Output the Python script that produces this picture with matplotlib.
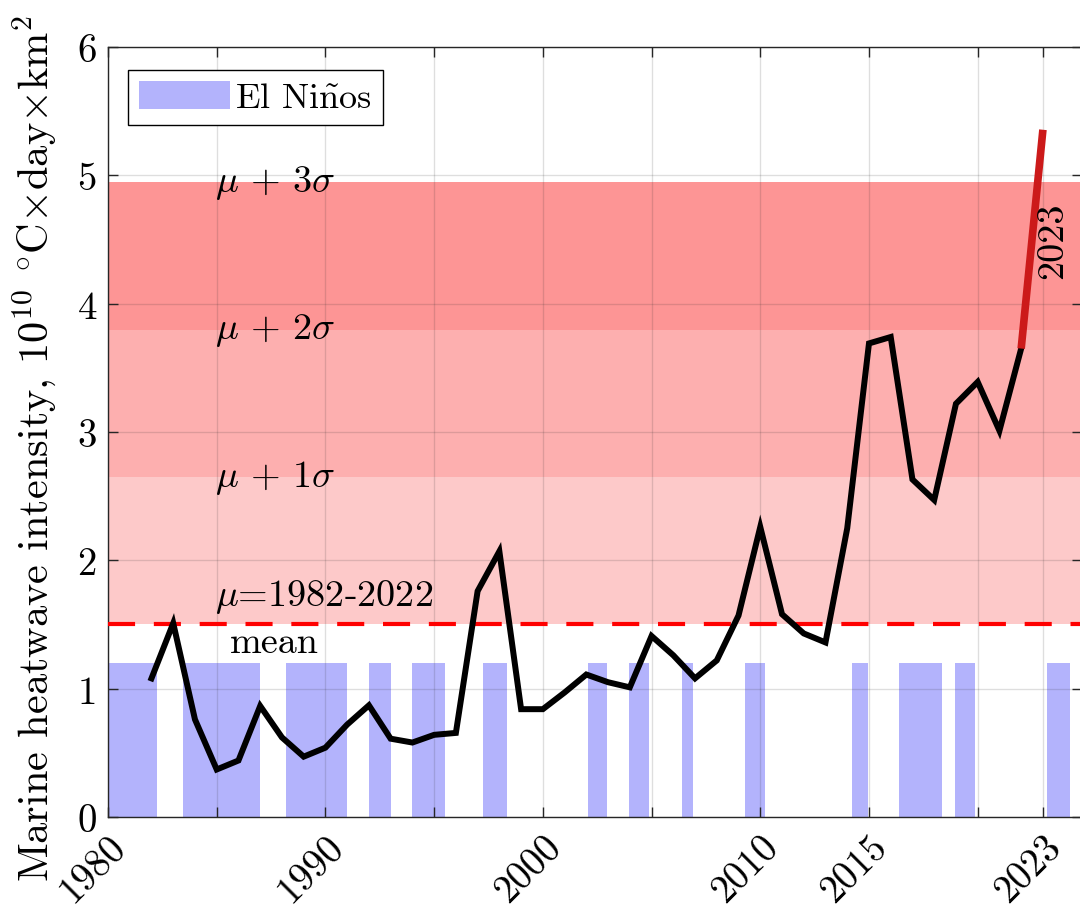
import numpy as np
import matplotlib
matplotlib.use("Agg")
import matplotlib.pyplot as plt
from matplotlib.patches import Patch

plt.rcParams['font.family'] = 'cmr10'
plt.rcParams['mathtext.fontset'] = 'cm'
plt.rcParams['axes.formatter.use_mathtext'] = True

# ---- data ----
years = list(range(1982, 2023))
intensity = [1.08, 1.51, 0.76, 0.37, 0.44, 0.865, 0.62, 0.47, 0.54, 0.72,
             0.87, 0.61, 0.58, 0.64, 0.655, 1.76, 2.07, 0.84, 0.84, 0.97,
             1.11, 1.05, 1.01, 1.41, 1.26, 1.08, 1.22, 1.57, 2.26, 1.58,
             1.43, 1.36, 2.25, 3.69, 3.74, 2.63, 2.47, 3.22, 3.39, 3.01,
             3.65]
year_2023 = [2022, 2023]
intensity_2023 = [3.65, 5.355]

clim_mean = 1.50
clim_std = 1.148

elnino_start = [1980.0, 1983.45, 1988.2, 1992.0, 1994.0, 1997.25, 2002.08,
                2003.97, 2006.4, 2009.3, 2014.2, 2016.4, 2018.96, 2023.2]
elnino_end = [1982.25, 1987.0, 1991.0, 1993.0, 1995.5, 1998.35, 2002.95,
              2004.9, 2006.9, 2010.2, 2014.96, 2018.36, 2019.88, 2024.25]
elnino_height = 1.2

xticks = [1980, 1985, 1990, 1995, 2000, 2005, 2010, 2015, 2020, 2023]
xticklabels = ['1980', '', '1990', '', '2000', '', '2010', '2015', '', '2023']
yticks = [0, 1, 2, 3, 4, 5, 6]

# ---- figure ----
fig = plt.figure(figsize=(10.8, 9.12), dpi=100)
ax = fig.add_axes([0.1, 0.1031, 1.0019 - 0.1, 0.9474 - 0.1031])

band_colors = ['#fdc9c9', '#fdafaf', '#fd9595']
for k in range(3):
    ax.axhspan(clim_mean + k * clim_std, clim_mean + (k + 1) * clim_std,
               color=band_colors[k], lw=0, zorder=0.5)

for s, e in zip(elnino_start, elnino_end):
    ax.bar(s, elnino_height, width=e - s, align='edge', color='#b3b3fc',
           lw=0, zorder=1)

ax.axhline(clim_mean, color='#ff0000', lw=3, ls=(0, (6.5, 4.5)), zorder=2.6)

ax.plot(years, intensity, color='black', lw=4.3, zorder=3,
        solid_joinstyle='miter')
ax.plot(year_2023, intensity_2023, color='#cc1a1a', lw=5.5, zorder=3.1,
        solid_capstyle='butt')

fs_lab = 27.5
for k in (3, 2, 1):
    ax.text(1984.9, clim_mean + k * clim_std,
            r'$\mu\,+\,%d\sigma$' % k, fontsize=fs_lab,
            ha='left', va='center', zorder=4)
ax.text(1984.9, 1.72, r'$\mu$=1982-2022', fontsize=fs_lab,
        ha='left', va='center', zorder=4)
ax.text(1985.6, 1.36, 'mean', fontsize=fs_lab, ha='left', va='center',
        zorder=4)
ax.text(2023.42, 4.5, '2023', fontsize=fs_lab, rotation=90,
        ha='center', va='center', zorder=4)

ax.set_xlim(1980, 2024.8)
ax.set_ylim(0, 6)
ax.set_xticks(xticks)
ax.set_xticklabels(xticklabels, rotation=45, ha='right', va='top',
                   rotation_mode='anchor')
ax.set_yticks(yticks)
ax.set_yticklabels([str(v) for v in yticks])
ax.tick_params(direction='in', length=7, width=1, top=True, right=True,
               labelsize=28, colors='#262626', labelcolor='black', pad=8)
ax.grid(True, color='#262626', alpha=0.15, lw=1)
ax.set_axisbelow(False)
for sp in ax.spines.values():
    sp.set_color('#262626')
    sp.set_linewidth(1)

ax.set_ylabel(r'Marine heatwave intensity, $10^{10}$ $^{\circ}$C$\times$day$\times$km$^2$',
              fontsize=30.5)
ax.yaxis.set_label_coords(-0.051, 0.48)

leg = ax.legend(handles=[Patch(facecolor='#b3b3fc', edgecolor='none',
                               label=r'El Ni$\tilde{\mathrm{n}}$os')],
                loc='upper left', bbox_to_anchor=(0.021, 0.97), fontsize=26,
                frameon=True, fancybox=False, framealpha=1,
                edgecolor='black', handlelength=2.5, handleheight=0.8,
                borderpad=0.3, handletextpad=0.15, borderaxespad=0)
leg.get_frame().set_linewidth(1)

fig.savefig('out.png', dpi=100)
